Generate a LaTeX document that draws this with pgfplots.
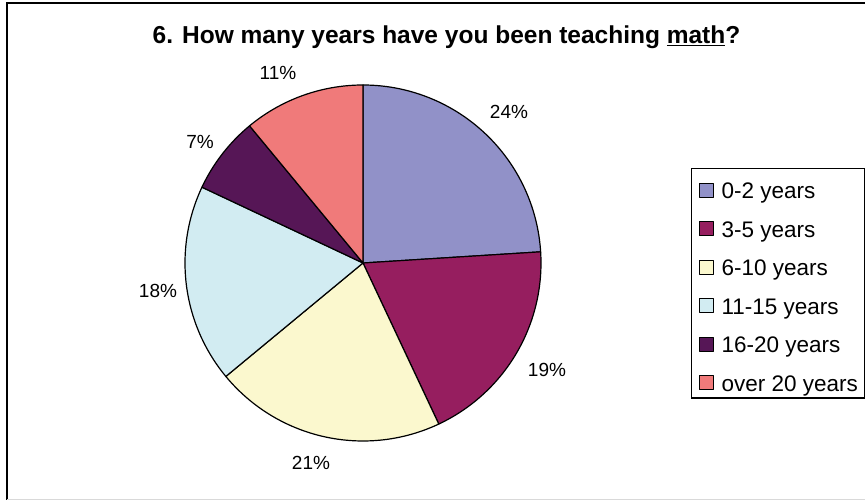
\documentclass[border=0pt]{standalone}
\usepackage{fontspec}
\setmainfont{Liberation Sans}
\usepackage{pgfplots}
\pgfplotsset{compat=1.18}
\definecolor{cA}{RGB}{145,145,200}
\definecolor{cB}{RGB}{150,30,95}
\definecolor{cC}{RGB}{251,248,206}
\definecolor{cD}{RGB}{210,236,242}
\definecolor{cE}{RGB}{86,22,86}
\definecolor{cF}{RGB}{240,122,122}
% shares in percent (0-2, 3-5, 6-10, 11-15, 16-20, over 20)
\def\vA{24}\def\vB{19}\def\vC{21}\def\vD{18}\def\vE{7}\def\vF{11}
\begin{document}
\begin{tikzpicture}
\pgfmathsetmacro{\aA}{90}
\pgfmathsetmacro{\aB}{\aA-3.6*\vA}
\pgfmathsetmacro{\aC}{\aB-3.6*\vB}
\pgfmathsetmacro{\aD}{\aC-3.6*\vC}
\pgfmathsetmacro{\aE}{\aD-3.6*\vD}
\pgfmathsetmacro{\aF}{\aE-3.6*\vE}
\pgfmathsetmacro{\aG}{\aF-3.6*\vF}
\begin{axis}[
  width=865pt, height=500pt, scale only axis,
  xmin=0, xmax=865, ymin=0, ymax=500,
  hide axis, clip=false,
  legend style={at={(axis cs:691,332)}, anchor=north west, draw=black, line width=1.2pt, fill=white,
     font=\fontsize{22.5}{27}\selectfont, inner xsep=7pt, inner ysep=2pt, row sep=5.5pt, column sep=8pt,
     nodes={inner sep=0pt, text height=28pt, text depth=5pt}, cells={anchor=base west}},
  legend image code/.code={\draw[#1, draw=black, line width=1pt] (0pt,1.5pt) rectangle (14pt,15.5pt);},
]
\addplot[fill=cA, draw=black, line width=1.2pt, line join=round, domain=\aB:\aA, samples=80] ({363+178*cos(x)},{237+178*sin(x)}) -- (axis cs:363,237) -- cycle;
\addlegendentry{0-2 years}
\addplot[fill=cB, draw=black, line width=1.2pt, line join=round, domain=\aC:\aB, samples=80] ({363+178*cos(x)},{237+178*sin(x)}) -- (axis cs:363,237) -- cycle;
\addlegendentry{3-5 years}
\addplot[fill=cC, draw=black, line width=1.2pt, line join=round, domain=\aD:\aC, samples=80] ({363+178*cos(x)},{237+178*sin(x)}) -- (axis cs:363,237) -- cycle;
\addlegendentry{6-10 years}
\addplot[fill=cD, draw=black, line width=1.2pt, line join=round, domain=\aE:\aD, samples=80] ({363+178*cos(x)},{237+178*sin(x)}) -- (axis cs:363,237) -- cycle;
\addlegendentry{11-15 years}
\addplot[fill=cE, draw=black, line width=1.2pt, line join=round, domain=\aF:\aE, samples=40] ({363+178*cos(x)},{237+178*sin(x)}) -- (axis cs:363,237) -- cycle;
\addlegendentry{16-20 years}
\addplot[fill=cF, draw=black, line width=1.2pt, line join=round, domain=\aG:\aF, samples=60] ({363+178*cos(x)},{237+178*sin(x)}) -- (axis cs:363,237) -- cycle;
\addlegendentry{over 20 years}
% percentage labels
\begin{scope}[every node/.style={font=\fontsize{19}{22}\selectfont, inner sep=0pt}]
\node at (axis cs:509,388) {24\%};
\node at (axis cs:547,130) {19\%};
\node at (axis cs:311,37) {21\%};
\node at (axis cs:158,209) {18\%};
\node at (axis cs:200,358) {7\%};
\node at (axis cs:278,427) {11\%};
\end{scope}
% title
\node[anchor=base, font=\fontsize{24.5}{28}\selectfont\bfseries, inner sep=0pt] at (axis cs:446.5,456) {6. How many years have you been teaching \underline{math}?};
% chart frame
\draw[line width=1.5pt] (axis cs:7,0) -- (axis cs:7,497) -- (axis cs:865,497);
\draw[black!15, line width=1pt] (axis cs:7,0.8) -- (axis cs:865,0.8);
\end{axis}
\pgfresetboundingbox
\useasboundingbox (0,0) rectangle (865pt,500pt);
\end{tikzpicture}
\end{document}
